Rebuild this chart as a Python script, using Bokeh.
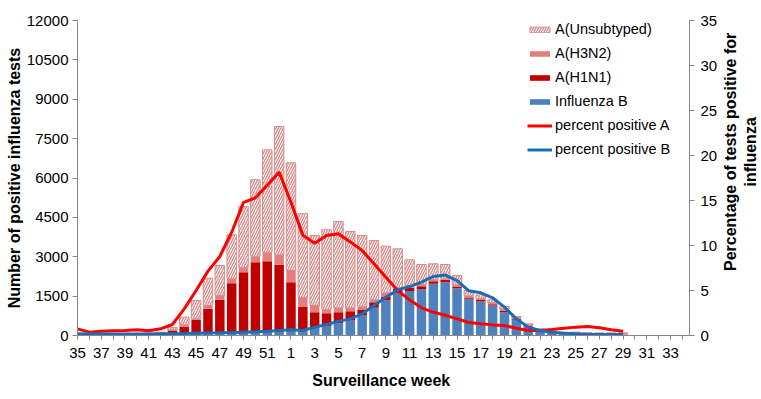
import math
from bokeh.plotting import figure
from bokeh.layouts import row
from bokeh.models import Range1d, LinearAxis, FixedTicker, Legend, LegendItem, ColumnDataSource
from bokeh.core.properties import value
from bokeh.transform import stack
from bokeh.embed import file_html
from bokeh.resources import INLINE

nan = float("nan")

weeks = list(range(35, 53)) + list(range(1, 35))

flu_b = [20, 15, 15, 15, 20, 20, 25, 30,
         40, 50, 60, 80, 100, 120, 140, 160, 170, 190,
         190, 216, 292, 343, 470, 571, 762, 1054, 1334, 1600, 1700, 1760, 1970, 2030, 1800, 1400,
         1300, 1140, 890, 600, 320, 165, 100, 65, 50, 40, 35, 30, 30, 0, 0, 0, 0, 0]
a_h1n1 = [5, 5, 5, 5, 10, 10, 15, 20,
          150, 280, 540, 936, 1260, 1874, 2273, 2634, 2662, 2503,
          1842, 874, 597, 508, 419, 356, 228, 216, 152, 178, 117, 120, 100, 91, 67, 50,
          50, 50, 60, 30, 30, 20, 15, 10, 10, 10, 10, 10, 5, 0, 0, 0, 0, 0]
a_h3n2 = [10, 5, 10, 10, 10, 10, 15, 20,
          30, 80, 40, 127, 164, 166, 190, 228, 343, 381,
          445, 360, 254, 127, 165, 127, 128, 89, 140, 40, 88, 63, 64, 63, 63, 60,
          60, 60, 60, 50, 50, 40, 30, 30, 40, 40, 35, 40, 45, 0, 0, 0, 0, 0]
a_unsub = [25, 15, 20, 20, 20, 30, 35, 60,
           80, 290, 695, 1040, 1143, 1676, 2312, 2909, 3899, 4889,
           4102, 3190, 2667, 3048, 3289, 2908, 2692, 2261, 1778, 1484, 978, 762, 596, 521, 356, 200,
           139, 109, 95, 44, 44, 29, 20, 22, 27, 20, 20, 20, 20, 0, 0, 0, 0, 0]
pct_a = [0.74, 0.37, 0.48, 0.52, 0.56, 0.63, 0.52, 0.74,
         1.22, 2.96, 5.0, 7.15, 8.78, 11.48, 14.8, 15.3, 16.7, 18.15,
         14.8, 11.15, 10.26, 11.1, 11.3, 10.4, 9.44, 7.96, 6.48, 5.0, 3.96, 3.07, 2.6, 2.25, 1.85, 1.45,
         1.3, 1.18, 1.1, 0.81, 0.56, 0.56, 0.67, 0.81, 0.93, 1.0, 0.85, 0.63, 0.48, nan, nan, nan, nan, nan]
pct_b = [0.2, 0.18, 0.18, 0.18, 0.18, 0.18, 0.18, 0.2,
         0.2, 0.22, 0.25, 0.28, 0.3, 0.33, 0.37, 0.42, 0.48, 0.56,
         0.63, 0.56, 0.93, 1.22, 1.59, 1.85, 2.4, 3.33, 4.26, 5.07, 5.44, 5.93, 6.56, 6.72, 6.1, 4.97,
         4.74, 4.19, 3.15, 1.85, 0.93, 0.56, 0.37, 0.26, 0.19, 0.11, 0.11, 0.11, 0.11, nan, nan, nan, nan, nan]

left_ticks = [0, 1500, 3000, 4500, 6000, 7500, 9000, 10500, 12000]
right_ticks = [0, 5, 10, 15, 20, 25, 30, 35]
right_title = "Percentage of tests positive for\ninfluenza"

FONT = "Liberation Sans"
AXC = "#868686"
H = 398

idx = list(range(len(weeks)))
src = ColumnDataSource(dict(x=idx, b=flu_b, h1=a_h1n1, h3=a_h3n2, un=a_unsub, pa=pct_a, pb=pct_b))

p = figure(width=720, height=H, output_backend="svg", toolbar_location=None,
           x_range=Range1d(0, 51.6), y_range=Range1d(0, 12000),
           min_border_left=77, min_border_right=29, min_border_top=20, min_border_bottom=63)
p.extra_y_ranges = {"pct": Range1d(0, 35)}
p.grid.visible = False
p.outline_line_color = None
p.background_fill_color = "white"

r_b = p.vbar(x="x", bottom=0, top="b", width=0.8, source=src, fill_color="#4F81BD", line_color=None)
r_h1 = p.vbar(x="x", bottom=stack("b"), top=stack("b", "h1"), width=0.8, source=src,
              fill_color="#C00000", line_color=None)
r_h3 = p.vbar(x="x", bottom=stack("b", "h1"), top=stack("b", "h1", "h3"), width=0.8, source=src,
              fill_color="#E57F7F", line_color=None)
r_un = p.vbar(x="x", bottom=stack("b", "h1", "h3"), top=stack("b", "h1", "h3", "un"), width=0.8, source=src,
              fill_color="white", line_color="#D48E8C", line_width=1,
              hatch_pattern="/", hatch_color="#D48E8C", hatch_scale=5, hatch_weight=1.4)

r_pa = p.line("x", "pa", source=src, y_range_name="pct", line_color="#FF0000", line_width=3)
r_pb = p.line("x", "pb", source=src, y_range_name="pct", line_color="#1C6DB5", line_width=3)

def style(ax):
    ax.axis_line_color = AXC
    ax.major_tick_line_color = AXC
    ax.major_tick_out = 5
    ax.major_tick_in = 0
    ax.minor_tick_line_color = None
    ax.major_label_text_font = FONT
    ax.major_label_text_font_size = "15px"
    ax.major_label_text_color = "black"
    ax.axis_label_text_font = FONT
    ax.axis_label_text_font_size = "16px"
    ax.axis_label_text_font_style = "bold"
    ax.axis_label_text_color = "black"

xa = p.xaxis[0]
style(xa)
xa.ticker = FixedTicker(ticks=idx)
xa.major_label_overrides = {i: (str(w) if i % 2 == 0 else "") for i, w in zip(idx, weeks)}
xa.major_tick_out = 4
xa.major_label_standoff = 8
xa.axis_label = "Surveillance  week"
xa.axis_label_standoff = 11

ya = p.yaxis[0]
style(ya)
ya.ticker = FixedTicker(ticks=left_ticks)
ya.major_label_standoff = 4
ya.axis_label = "Number of positive influenza tests"
ya.axis_label_standoff = 1

ra = LinearAxis(y_range_name="pct", ticker=FixedTicker(ticks=right_ticks))
style(ra)
ra.major_label_standoff = 6
p.add_layout(ra, "right")

legend = Legend(items=[
    LegendItem(label="A(Unsubtyped)", renderers=[r_un]),
    LegendItem(label="A(H3N2)", renderers=[r_h3]),
    LegendItem(label="A(H1N1)", renderers=[r_h1]),
    LegendItem(label="Influenza B", renderers=[r_b]),
    LegendItem(label="percent positive A", renderers=[r_pa]),
    LegendItem(label="percent positive B", renderers=[r_pb]),
], location=(450, 176), background_fill_alpha=0, border_line_color=None, padding=0, margin=0,
   spacing=4, glyph_width=25, glyph_height=7, label_height=20, label_standoff=3,
   label_text_font=FONT, label_text_font_size="14.5px", label_text_color="black")
p.add_layout(legend)

# narrow side panel carrying the right-hand axis title (reads bottom-to-top)
W2 = 40
p2 = figure(width=W2, height=H, output_backend="svg", toolbar_location=None,
            x_range=Range1d(0, W2), y_range=Range1d(0, H),
            min_border_left=0, min_border_right=0, min_border_top=0, min_border_bottom=0)
p2.axis.visible = False
p2.grid.visible = False
p2.outline_line_color = None
p2.text(x=[20], y=[H - 166], text=[right_title], angle=math.pi / 2,
        text_align="center", text_baseline="middle", text_font=value(FONT),
        text_font_size="16px", text_font_style="bold", text_color="black", text_line_height=1.15)

open("out.html", "w").write(file_html(row(p, p2), INLINE))
